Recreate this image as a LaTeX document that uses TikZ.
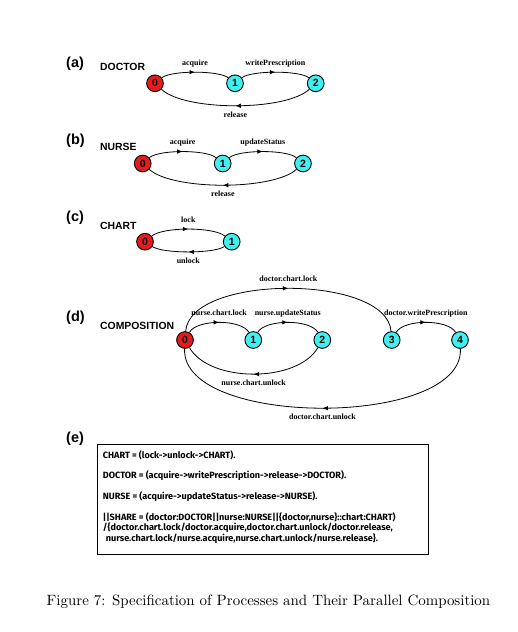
\documentclass[tikz,border=0pt]{standalone}
\usepackage{fontspec}
\newfontfamily\lsans{Liberation Sans}
\newfontfamily\lserif{Liberation Serif}
\newfontfamily\codefont{Fira Sans}
\usetikzlibrary{arrows.meta,decorations.markings}
\definecolor{nred}{RGB}{230,28,28}
\definecolor{ncyan}{RGB}{64,240,240}
\tikzset{
  st/.style={circle, draw=black, line width=0.9pt, minimum size=16.7pt, inner sep=0pt,
    font=\lsans\bfseries\fontsize{10.5}{12}\selectfont},
  init/.style={st, fill=nred},
  other/.style={st, fill=ncyan},
  tr/.style={draw=black, line width=0.8pt, postaction={decorate},
    decoration={markings, mark=at position 0.5 with {\arrow{Latex[length=5.5pt,width=4.5pt]}}}},
  elab/.style={font=\lserif\bfseries\fontsize{8}{9}\selectfont, inner sep=0pt, anchor=base},
  labup/.style={elab, yshift=7pt},
  labdn/.style={elab, yshift=-11.5pt},
  plab/.style={font=\lsans\bfseries\fontsize{14.5}{16}\selectfont, anchor=west, inner sep=0pt},
  pname/.style={font=\lsans\bfseries\fontsize{10.4}{12}\selectfont, anchor=west, inner sep=0pt},
  codebox/.style={draw=black, line width=1pt, minimum width=331pt, minimum height=110pt, inner sep=0pt},
  codetext/.style={font=\codefont\bfseries\fontsize{9.1}{10.4}\selectfont, align=left, inner sep=0pt, anchor=north west},
}
\begin{document}
\begin{tikzpicture}[x=1pt,y=-1pt]
\useasboundingbox (0,0) rectangle (518,632);
% (a)
\node[plab] (la) at (66,63.3) {(a)};
\node[pname] (na) at (100,67.3) {DOCTOR};
\node[init] (a0) at (155,83.3) {0};
\node[other] (a1) at (235,83.3) {1};
\node[other] (a2) at (315.7,83.3) {2};
\draw[tr] (a0) .. controls +(16,-13) and +(-16,-13) .. node[labup]{acquire} (a1);
\draw[tr] (a1) .. controls +(16,-13) and +(-16,-13) .. node[labup]{writePrescription} (a2);
\draw[tr] (a2) .. controls +(-30,28) and +(30,28) .. node[labdn]{release} (a0);
% (b)
\node[plab] (lb) at (66,141) {(b)};
\node[pname] (nb) at (100,147) {NURSE};
\node[init] (b0) at (142.7,163.5) {0};
\node[other] (b1) at (222.7,163.5) {1};
\node[other] (b2) at (303,163.5) {2};
\draw[tr] (b0) .. controls +(16,-14) and +(-16,-14) .. node[labup]{acquire} (b1);
\draw[tr] (b1) .. controls +(16,-14) and +(-16,-14) .. node[labup]{updateStatus} (b2);
\draw[tr] (b2) .. controls +(-30,27) and +(30,27) .. node[labdn]{release} (b0);
% (c)
\node[plab] (lc) at (66,218) {(c)};
\node[pname] (nc) at (100,226) {CHART};
\node[init] (c0) at (145,241.7) {0};
\node[other] (c1) at (231.7,241.7) {1};
\draw[tr] (c0) .. controls +(18,-15) and +(-18,-15) .. node[labup]{lock} (c1);
\draw[tr] (c1) .. controls +(-18,12) and +(18,12) .. node[labdn]{unlock} (c0);
% (d)
\node[plab] (ld) at (66,318) {(d)};
\node[pname] (nd) at (100,326) {COMPOSITION};
\node[init] (d0) at (185,340) {0};
\node[other] (d1) at (253.3,340) {1};
\node[other] (d2) at (322.3,340) {2};
\node[other] (d3) at (391.7,340) {3};
\node[other] (d4) at (460,340) {4};
\draw[tr] (d0) .. controls +(12,-21) and +(-12,-21) .. node[labup]{nurse.chart.lock} (d1);
\draw[tr] (d1) .. controls +(12,-21) and +(-12,-21) .. node[labup]{nurse.updateStatus} (d2);
\draw[tr] (d3) .. controls +(12,-21) and +(-12,-21) .. node[labup]{doctor.writePrescription} (d4);
\draw[tr] (d2) .. controls +(-25,43) and +(25,43) .. node[labdn]{nurse.chart.unlock} (d0);
\draw[tr] (d0) .. controls +(5,-66) and +(-5,-66) .. node[labup]{doctor.chart.lock} (d3);
\draw[tr] (d4) .. controls +(4,88) and +(-4,88) .. node[labdn]{doctor.chart.unlock} (d0);
% (e)
\node[plab] (le) at (66,439) {(e)};
\node[codebox] (box) at (262.5,499) {};
\node[codetext] (code) at (102.7,450) {CHART = (lock->unlock->CHART).\\[10.4pt]
DOCTOR = (acquire->writePrescription->release->DOCTOR).\\[10.4pt]
NURSE = (acquire->updateStatus->release->NURSE).\\[10.4pt]
||SHARE = (doctor:DOCTOR||nurse:NURSE||\{doctor,nurse\}::chart:CHART)\\
/\{doctor.chart.lock/doctor.acquire,doctor.chart.unlock/doctor.release,\\
\hspace*{3pt}nurse.chart.lock/nurse.acquire,nurse.chart.unlock/nurse.release\}.};
% caption
\node[scale=1.494, inner sep=0pt, anchor=base] (cap) at (268.5,605.5) {\fontsize{10}{12}\selectfont Figure 7: Specification of Processes and Their Parallel Composition};
\end{tikzpicture}
\end{document}
